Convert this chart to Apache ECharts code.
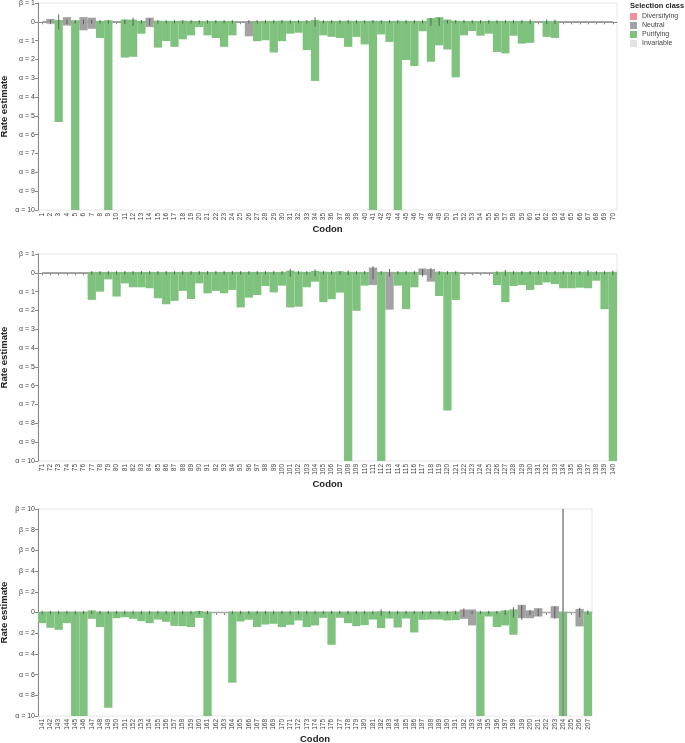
<!DOCTYPE html>
<html>
<head>
<meta charset="utf-8">
<script src="https://cdn.jsdelivr.net/npm/echarts@6/dist/echarts.min.js"></script>
<style>html,body{margin:0;padding:0;background:#fff}#c{width:685px;height:743px}</style>
</head>
<body>
<div id="c"></div>
<script>
// ---- Panel 1: codons 1-70 ----
const codons1 = Array.from({length: 70}, (_, k) => String(k + 1));
const alpha1 = [0,0.10,5.33,0.20,10,0.45,0.37,0.86,10,0,
  1.90,1.86,0.63,0.28,1.37,1.02,1.33,0.93,0.72,0.28,
  0.72,0.86,1.33,0.72,0,0.77,1.03,0.98,1.63,1.03,
  0.63,0.58,1.50,3.14,0.72,0.80,0.86,1.33,0.80,1.20,
  10,0.67,1.07,10,2.03,2.35,0.50,2.12,1.25,1.47,
  2.95,0.72,0.49,0.74,0.63,1.60,1.68,0.74,1.16,1.12,
  0,0.80,0.86,0,0,0,0,0,0,0];
const beta1 = [0,0.15,0.10,0.25,0.08,0.25,0.22,0.05,0.08,0,
  0.12,0.12,0.05,0.22,0.06,0.05,0.05,0.06,0.05,0.04,
  0.05,0.05,0.05,0.05,0,0.02,0.04,0.05,0.05,0.06,
  0.05,0.05,0.05,0.10,0.04,0.05,0.05,0.06,0.05,0.05,
  0.06,0.05,0.05,0.06,0.05,0.05,0.05,0.20,0.25,0.12,
  0.06,0.05,0.05,0.05,0.05,0.05,0.05,0.05,0.05,0.05,
  0,0.05,0.05,0,0,0,0,0,0,0];
const class1 = ['I','N','P','N','P','N','N','P','P','I',
  'P','P','P','N','P','P','P','P','P','P',
  'P','P','P','P','I','N','P','P','P','P',
  'P','P','P','P','P','P','P','P','P','P',
  'P','P','P','P','P','P','P','P','P','P',
  'P','P','P','P','P','P','P','P','P','P',
  'I','P','P','I','I','I','I','I','I','I'];
const ci1 = [0,0.10,0.40,0.12,0.09,0.12,0.10,0.09,0.09,0,
  0.12,0.22,0.09,0.18,0.09,0.09,0.09,0.09,0.09,0.09,
  0.09,0.09,0.09,0.09,0,0.09,0.09,0.09,0.09,0.09,
  0.09,0.09,0.09,0.25,0.09,0.09,0.09,0.09,0.09,0.09,
  0.09,0.09,0.09,0.09,0.09,0.09,0.09,0.20,0.22,0.09,
  0.09,0.09,0.09,0.09,0.09,0.09,0.09,0.09,0.09,0.12,
  0,0.12,0.12,0,0,0,0,0,0,0];

// ---- Panel 2: codons 71-140 ----
const codons2 = Array.from({length: 70}, (_, k) => String(k + 71));
const alpha2 = [0,0,0,0,0,0,1.44,1.00,0.35,1.26,
  0.56,0.77,0.77,0.82,1.35,1.67,1.49,0.96,1.39,0.56,
  1.09,0.96,1.09,0.91,1.84,1.32,1.18,0.70,1.04,0.68,
  1.84,1.80,0.77,0.47,1.56,1.40,1.05,10,2.02,0.68,
  0.65,10,1.96,0.68,1.93,0.77,0.12,0.47,1.23,7.32,
  1.44,0,0,0,0,0.65,1.56,0.70,0.65,0.91,
  0.65,0.51,0.60,0.82,0.82,0.79,0.82,0.42,1.93,10];
const beta2 = [0,0,0,0,0,0,0.05,0.05,0.05,0.05,
  0.05,0.05,0.05,0.05,0.05,0.05,0.05,0.05,0.05,0.05,
  0.05,0.05,0.05,0.05,0.05,0.05,0.05,0.05,0.05,0.05,
  0.12,0.06,0.05,0.10,0.06,0.05,0.08,0.06,0.05,0.05,
  0.28,0.06,0.05,0.05,0.05,0.05,0.23,0.20,0.06,0.05,
  0.05,0,0,0,0,0.05,0.06,0.05,0.05,0.05,
  0.05,0.05,0.05,0.05,0.05,0.05,0.06,0.05,0.05,0.06];
const class2 = ['I','I','I','I','I','I','P','P','P','P',
  'P','P','P','P','P','P','P','P','P','P',
  'P','P','P','P','P','P','P','P','P','P',
  'P','P','P','P','P','P','P','P','P','P',
  'N','P','N','P','P','P','N','N','P','P',
  'P','I','I','I','I','P','P','P','P','P',
  'P','P','P','P','P','P','P','P','P','P'];
const ci2 = [0,0,0,0,0,0,0.09,0.09,0.09,0.09,
  0.09,0.09,0.09,0.09,0.09,0.09,0.09,0.09,0.09,0.09,
  0.09,0.09,0.09,0.09,0.09,0.09,0.09,0.09,0.09,0.09,
  0.20,0.09,0.09,0.18,0.09,0.09,0.09,0.12,0.09,0.09,
  0.35,0.09,0.20,0.09,0.09,0.09,0.20,0.25,0.09,0.09,
  0.09,0,0,0,0,0.09,0.15,0.09,0.09,0.09,
  0.09,0.09,0.09,0.09,0.09,0.09,0.15,0.09,0.09,0.12];

// ---- Panel 3: codons 141-207 ----
const codons3 = Array.from({length: 67}, (_, k) => String(k + 141));
const alpha3 = [1.03,1.48,1.67,1.03,10,10,0.61,1.41,9.20,0.55,
  0.45,0.61,0.84,1.03,0.68,0.90,1.29,1.32,1.41,0.51,
  10,0,0,6.78,0.87,0.70,1.41,1.16,1.09,1.41,
  1.19,0.77,1.41,1.25,0.51,3.12,0.51,1.03,1.32,1.22,
  0.68,1.51,0.58,1.45,0.58,1.93,0.71,0.68,0.68,0.77,
  0.74,0.61,1.25,10,0.39,1.41,1.25,2.15,0.55,0.55,
  0.39,0,0.55,10,0,1.35,10];
const beta3 = [0.08,0.08,0.08,0.08,0.08,0.08,0.20,0.08,0.08,0.08,
  0.08,0.08,0.08,0.08,0.08,0.08,0.08,0.08,0.08,0.15,
  0.08,0,0,0.08,0.08,0.08,0.08,0.08,0.08,0.08,
  0.08,0.08,0.08,0.08,0.08,0.08,0.08,0.08,0.08,0.08,
  0.08,0.12,0.08,0.08,0.08,0.08,0.08,0.08,0.08,0.08,
  0.10,0.29,0.29,0.08,0.08,0.10,0.20,0.30,0.74,0.20,
  0.42,0,0.61,0.08,0,0.35,0.10];
const class3 = ['P','P','P','P','P','P','P','P','P','P',
  'P','P','P','P','P','P','P','P','P','P',
  'P','I','I','P','P','P','P','P','P','P',
  'P','P','P','P','P','P','P','P','P','P',
  'P','P','P','P','P','P','P','P','P','P',
  'P','N','N','P','P','P','P','P','N','N',
  'N','I','N','P','I','N','P'];
const ci3 = [0.16,0.16,0.16,0.16,0.16,0.16,0.16,0.16,0.16,0.16,
  0.16,0.16,0.16,0.16,0.16,0.16,0.16,0.16,0.16,0.16,
  0.16,0,0,0.16,0.16,0.16,0.16,0.16,0.16,0.16,
  0.16,0.16,0.16,0.16,0.16,0.16,0.16,0.16,0.16,0.16,
  0.16,0.30,0.16,0.16,0.16,0.16,0.16,0.16,0.16,0.16,
  0.16,0.40,0.16,0.16,0.16,0.16,0.25,0.50,0.70,0.25,
  0.35,0,0.60,10,0,0.45,0.20];

const classNames = {D: 'Diversifying', N: 'Neutral', P: 'Purifying', I: 'Invariable'};
const classColors = {Diversifying: '#f4909e', Neutral: '#a2a2a2', Purifying: '#7fc27d', Invariable: '#e2e2e2'};

const panels = [
  {cats: codons1, a: alpha1, b: beta1, c: class1, ci: ci1, min: -10, max: 1, step: 1,
   grid: {left: 38, top: 3, width: 579, height: 207}, nameGap: 14},
  {cats: codons2, a: alpha2, b: beta2, c: class2, ci: ci2, min: -10, max: 1, step: 1,
   grid: {left: 38, top: 254, width: 579, height: 207}, nameGap: 18},
  {cats: codons3, a: alpha3, b: beta3, c: class3, ci: ci3, min: -10, max: 10, step: 2,
   grid: {left: 38, top: 509, width: 554, height: 207}, nameGap: 18}
];

function barRender(params, api) {
  const i = api.value(0), a = api.value(1), b = api.value(2);
  const p1 = api.coord([i, b]);
  const p2 = api.coord([i, -a]);
  const w = api.size([1, 0])[0];
  return {type: 'rect', shape: {x: p1[0] - w / 2, y: p1[1], width: w, height: p2[1] - p1[1]},
          style: {fill: api.visual('color')}};
}
function tickRender(params, api) {
  const i = api.value(0), h = api.value(1);
  const p1 = api.coord([i, h]);
  const p2 = api.coord([i, -h]);
  const big = h > 5;
  return {type: 'line', shape: {x1: p1[0], y1: p1[1], x2: p2[0], y2: p2[1]},
          style: {stroke: big ? '#8a8a8a' : '#555', lineWidth: big ? 1.6 : 0.9}};
}

const grids = [], xAxes = [], yAxes = [], series = [];
panels.forEach((p, k) => {
  grids.push(Object.assign({show: true, borderColor: '#e6e6e6', borderWidth: 1, backgroundColor: 'transparent',
    containLabel: false, outerBoundsMode: 'none'}, p.grid));
  xAxes.push({
    type: 'category', gridIndex: k, data: p.cats, boundaryGap: true,
    name: 'Codon', nameLocation: 'middle', nameGap: p.nameGap,
    nameTextStyle: {fontSize: 9.5, fontWeight: 'bold', color: '#222', fontFamily: 'Liberation Sans'},
    axisLine: {show: true, lineStyle: {color: '#888', width: 1}},
    axisTick: {show: true, alignWithLabel: true, interval: 0, length: 2.5, lineStyle: {color: '#888'}},
    axisLabel: {rotate: 90, interval: 0, fontSize: 6.5, color: '#444', margin: 3, fontFamily: 'Liberation Sans'},
    splitLine: {show: false}
  });
  yAxes.push({
    type: 'value', gridIndex: k, min: p.min, max: p.max, interval: p.step,
    name: 'Rate estimate', nameLocation: 'middle', nameGap: 29, nameRotate: 90, nameMoveOverlap: false,
    nameTextStyle: {fontSize: 9.5, fontWeight: 'bold', color: '#222', fontFamily: 'Liberation Sans'},
    axisLine: {show: true, lineStyle: {color: '#888', width: 1}},
    axisTick: {show: true, length: 3, lineStyle: {color: '#888'}},
    axisLabel: {fontSize: 7, color: '#444', margin: 3, fontFamily: 'Liberation Sans',
      formatter: v => v > 0 ? '\u03b2 = ' + v : (v < 0 ? '\u03b1 = ' + (-v) : '0')},
    splitLine: {show: false}
  });
  series.push({type: 'line', xAxisIndex: k, yAxisIndex: k, data: p.cats.map(() => 0),
    showSymbol: false, symbol: 'none', silent: true, z: 1,
    lineStyle: {color: '#a8a8a8', width: 1.5}});
  ['D', 'N', 'P', 'I'].forEach(code => {
    const name = classNames[code];
    const data = [];
    p.c.forEach((c, i) => { if (c === code && code !== 'I') data.push([i, p.a[i], p.b[i]]); });
    series.push({type: 'custom', name: name, xAxisIndex: k, yAxisIndex: k, renderItem: barRender,
      data: data, z: 2, itemStyle: {color: classColors[name]}, silent: true});
  });
  const tdata = [];
  p.ci.forEach((h, i) => { if (h > 0) tdata.push([i, h]); });
  series.push({type: 'custom', xAxisIndex: k, yAxisIndex: k, renderItem: tickRender, data: tdata, z: 3, silent: true});
});

const chart = echarts.init(document.getElementById('c'), null, {renderer: 'canvas'});
chart.setOption({
  animation: false,
  backgroundColor: '#fff',
  title: {text: 'Selection class', left: 630, top: 2, padding: 0,
    textStyle: {fontSize: 7.5, fontWeight: 'bold', color: '#222', fontFamily: 'Liberation Sans'}},
  legend: {data: ['Diversifying', 'Neutral', 'Purifying', 'Invariable'], orient: 'vertical',
    left: 630, top: 13, itemWidth: 7, itemHeight: 7, itemGap: 2, icon: 'rect', selectedMode: false,
    textStyle: {fontSize: 7, color: '#444', fontFamily: 'Liberation Sans'}, padding: 0},
  grid: grids, xAxis: xAxes, yAxis: yAxes, series: series
});
</script>
</body>
</html>
